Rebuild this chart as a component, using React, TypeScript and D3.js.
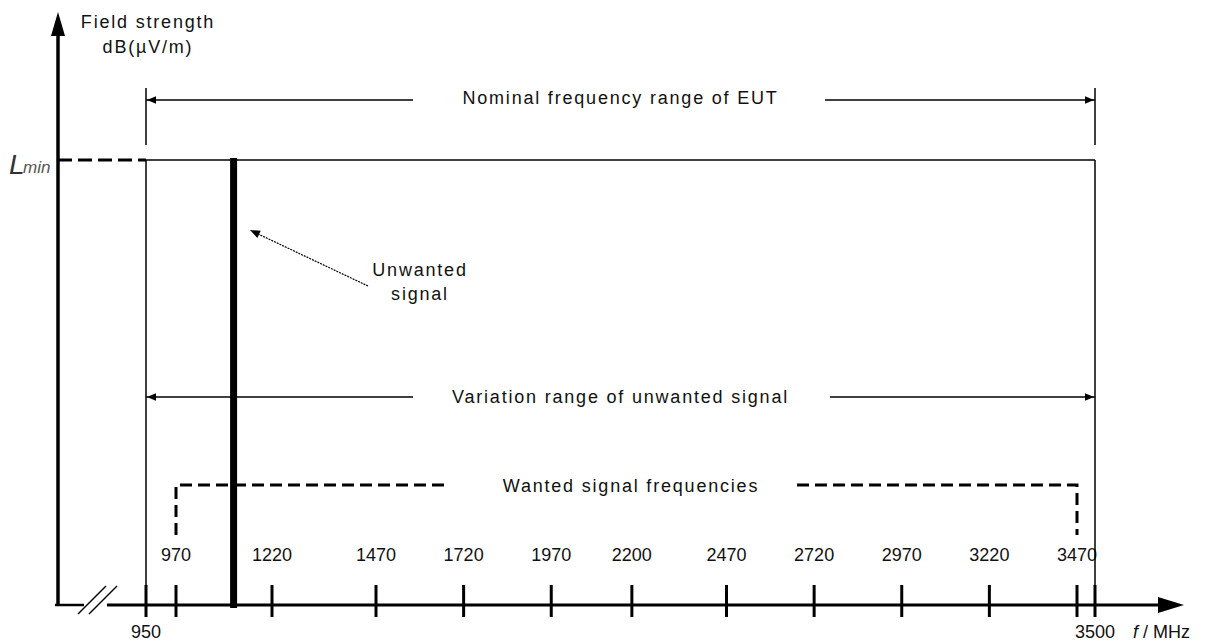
import React from 'react';
import * as d3 from 'd3';

// ---------- data ----------
const tickValues = [950, 970, 1220, 1470, 1720, 1970, 2200, 2470, 2720, 2970, 3220, 3470, 3500];
const upperTickValues = [970, 1220, 1470, 1720, 1970, 2200, 2470, 2720, 2970, 3220, 3470];
const lowerTickValues = [950, 3500];
const nominalRange = [950, 3500];
const variationRange = [950, 3500];
const wantedRange = [970, 3470];
const unwantedSignalFreq = 1120;
const levelLmin = 1; // relative field strength of L_min

// ---------- layout ----------
const W = 1213;
const H = 643;
const axisX = 58;
const axisY = 605;
const rowNominal = 100;
const rowVariation = 397;
const rowWanted = 485;
const FONT = "'Liberation Sans', Arial, sans-serif";

// schematic (non-uniform) frequency axis as drawn in the figure
const x = d3
  .scaleLinear()
  .domain([950, 970, 1220, 1470, 3470, 3500])
  .range([146, 176, 272, 376, 1077, 1095]);
const y = d3.scaleLinear().domain([0, levelLmin]).range([axisY, 160]);

function arrowHead(tipX: number, tipY: number, fromX: number, fromY: number, len = 9, half = 3.8) {
  const a = Math.atan2(tipY - fromY, tipX - fromX);
  const bx = tipX - len * Math.cos(a);
  const by = tipY - len * Math.sin(a);
  const px = -Math.sin(a) * half;
  const py = Math.cos(a) * half;
  return `${tipX},${tipY} ${bx + px},${by + py} ${bx - px},${by - py}`;
}

const captionStyle: React.CSSProperties = {
  fontFamily: FONT,
  fontSize: 18,
  letterSpacing: 1.8,
};

export default function App() {
  const lineGen = d3.line<[number, number]>();
  const yL = y(levelLmin);
  const textCenter = (x(950) + x(3500)) / 2;

  const rangeArrow = (range: number[], rowY: number, gapL: number, gapR: number, label: string, baseline: number, key: string) => {
    const x0 = x(range[0]);
    const x1 = x(range[1]);
    return (
      <g key={key}>
        <line x1={x0} y1={rowY} x2={gapL} y2={rowY} stroke="#000" strokeWidth={1.5} />
        <line x1={gapR} y1={rowY} x2={x1} y2={rowY} stroke="#000" strokeWidth={1.5} />
        <polygon points={arrowHead(x0 + 1, rowY, x0 + 20, rowY)} fill="#000" />
        <polygon points={arrowHead(x1 - 1, rowY, x1 - 20, rowY)} fill="#000" />
        <text x={textCenter} y={baseline} textAnchor="middle" style={captionStyle} fill="#111">
          {label}
        </text>
      </g>
    );
  };

  return (
    <svg
      width={W}
      height={H}
      viewBox={`0 0 ${W} ${H}`}
      style={{ position: 'absolute', left: 0, top: 0, background: '#fff' }}
    >
      <rect x={0} y={0} width={W} height={H} fill="#fff" />

      {/* Y axis */}
      <line x1={axisX} y1={axisY + 1} x2={axisX} y2={34} stroke="#000" strokeWidth={3.5} />
      <polygon points={arrowHead(axisX, 12, axisX, 40, 24, 7)} fill="#000" />
      <text x={148} y={28} textAnchor="middle" style={captionStyle} fill="#111">Field strength</text>
      <text x={148} y={53} textAnchor="middle" style={captionStyle} fill="#111">dB(µV/m)</text>

      {/* X axis with break */}
      <line x1={axisX - 3} y1={axisY} x2={84} y2={axisY} stroke="#000" strokeWidth={2.5} />
      <line x1={78} y1={614} x2={106} y2={586} stroke="#000" strokeWidth={1.5} />
      <line x1={89} y1={614} x2={117} y2={586} stroke="#000" strokeWidth={1.5} />
      <line x1={107} y1={axisY} x2={1162} y2={axisY} stroke="#000" strokeWidth={3} />
      <polygon points={arrowHead(1184, axisY, 1150, axisY, 26, 8)} fill="#000" />

      {tickValues.map((v) => (
        <line key={`t${v}`} x1={x(v)} y1={585} x2={x(v)} y2={617} stroke="#000" strokeWidth={3} />
      ))}
      {upperTickValues.map((v) => (
        <text key={`u${v}`} x={x(v)} y={561} textAnchor="middle" fontFamily={FONT} fontSize={18} fill="#111">
          {v}
        </text>
      ))}
      {lowerTickValues.map((v) => (
        <text key={`l${v}`} x={x(v)} y={638} textAnchor="middle" fontFamily={FONT} fontSize={18} fill="#111">
          {v}
        </text>
      ))}
      <text x={1133} y={638} fontFamily={FONT} fontSize={18} fill="#111">
        <tspan fontStyle="italic">f</tspan>
        <tspan> / MHz</tspan>
      </text>

      {/* L_min level */}
      <line x1={axisX} y1={yL} x2={x(950)} y2={yL} stroke="#000" strokeWidth={3} strokeDasharray="14,6" />
      <line x1={x(950)} y1={yL} x2={x(3500)} y2={yL} stroke="#000" strokeWidth={1.5} />
      <text x={9} y={174} fontFamily={FONT} fontSize={28} fontStyle="italic" fill="#333">L</text>
      <text x={23} y={173} fontFamily={FONT} fontSize={17} fontStyle="italic" fill="#555">min</text>

      {/* EUT frequency range box sides */}
      <line x1={x(nominalRange[0])} y1={yL} x2={x(nominalRange[0])} y2={axisY} stroke="#000" strokeWidth={1.5} />
      <line x1={x(nominalRange[1])} y1={yL} x2={x(nominalRange[1])} y2={axisY} stroke="#000" strokeWidth={1.5} />
      <line x1={x(nominalRange[0])} y1={88} x2={x(nominalRange[0])} y2={145} stroke="#000" strokeWidth={1.5} />
      <line x1={x(nominalRange[1])} y1={88} x2={x(nominalRange[1])} y2={145} stroke="#000" strokeWidth={1.5} />

      {rangeArrow(nominalRange, rowNominal, 413, 825, 'Nominal frequency range of EUT', 104, 'nom')}
      {rangeArrow(variationRange, rowVariation, 413, 830, 'Variation range of unwanted signal', 403, 'var')}

      {/* Wanted signal frequencies */}
      <path
        d={lineGen([
          [x(wantedRange[0]), 535],
          [x(wantedRange[0]), rowWanted],
          [446, rowWanted],
        ]) as string}
        fill="none"
        stroke="#000"
        strokeWidth={3}
        strokeDasharray="12,6"
      />
      <path
        d={lineGen([
          [797, rowWanted],
          [x(wantedRange[1]), rowWanted],
          [x(wantedRange[1]), 535],
        ]) as string}
        fill="none"
        stroke="#000"
        strokeWidth={3}
        strokeDasharray="12,6"
      />
      <text x={631} y={492} textAnchor="middle" style={captionStyle} fill="#111">
        Wanted signal frequencies
      </text>

      {/* Unwanted signal */}
      <line
        x1={x(unwantedSignalFreq)}
        y1={yL - 2}
        x2={x(unwantedSignalFreq)}
        y2={axisY + 3}
        stroke="#000"
        strokeWidth={7}
      />
      <line x1={368} y1={286} x2={256} y2={233} stroke="#000" strokeWidth={1.2} strokeDasharray="2,1" />
      <polygon points={arrowHead(250, 230, 368, 286, 10, 4)} fill="#000" />
      <text x={420} y={276} textAnchor="middle" style={captionStyle} fill="#111">Unwanted</text>
      <text x={420} y={300} textAnchor="middle" style={captionStyle} fill="#111">signal</text>
    </svg>
  );
}
